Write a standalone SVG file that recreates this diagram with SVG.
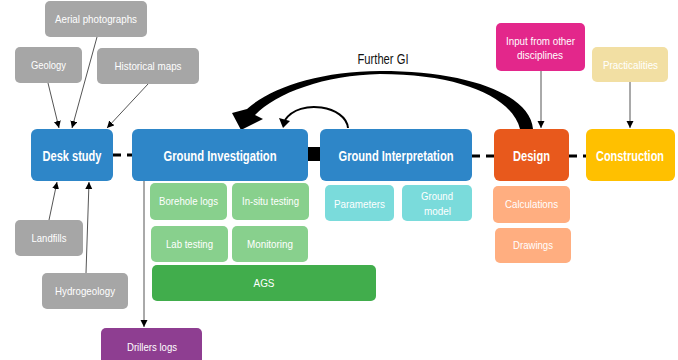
<svg xmlns="http://www.w3.org/2000/svg" width="678" height="360" viewBox="0 0 678 360">
<style>
.main{font-family:"Liberation Sans",Arial,sans-serif;font-weight:bold;font-size:14px;fill:#fff;text-anchor:middle}
.lbl{font-family:"Liberation Sans",Arial,sans-serif;font-size:11.5px;fill:#fff;text-anchor:middle}
.thin{stroke:#555;stroke-width:1;fill:none;marker-end:url(#ah)}
.dash{stroke:#000;stroke-width:3;fill:none;stroke-dasharray:8 6}
.blue{fill:#2E86C8}
.gray{fill:#A6A6A6}
.lg{fill:#88D08D}
</style>
<defs>
<marker id="ah" markerUnits="userSpaceOnUse" markerWidth="8" markerHeight="8" refX="7" refY="3.5" orient="auto">
<path d="M0,0 L7,3.5 L0,7 z" fill="#000"/>
</marker>
</defs>

<g id="connectors">
<line class="thin" x1="48" y1="83" x2="59" y2="128"/>
<line class="thin" x1="97" y1="37" x2="72" y2="128"/>
<line class="thin" x1="148" y1="84" x2="107" y2="128"/>
<line class="thin" x1="49" y1="220" x2="57" y2="182"/>
<line class="thin" x1="86" y1="273" x2="89" y2="182"/>
<line class="thin" x1="541" y1="71" x2="541" y2="128"/>
<line class="thin" x1="630" y1="82" x2="630" y2="128"/>
<line class="thin" x1="144" y1="181" x2="144" y2="327"/>
<line class="dash" x1="113" y1="155" x2="132" y2="155"/>
<line class="dash" x1="472" y1="156" x2="494" y2="156"/>
<line class="dash" x1="569" y1="156" x2="586" y2="156"/>
<rect x="307" y="147" width="14" height="14" fill="#000"/>
<path d="M533 129 C530 95 470 71 380 71 C320 71 270 88 247 109 L232 113 L241 130 L263 119 L255 115 C276 93 325 75 380 74 C460 74 512 97 520 129 Z" fill="#000"/>
<path d="M348 128 C346 106 300 98 285 120" stroke="#000" stroke-width="2" fill="none"/>
<path d="M279 118 L283 128 L290 121 Z" fill="#000"/>
<text x="383" y="64" font-family="'Liberation Sans',Arial,sans-serif" font-size="14" fill="#111" text-anchor="middle" textLength="51" lengthAdjust="spacingAndGlyphs">Further GI</text>
</g>

<g id="aerial"><rect class="gray" x="45" y="1" width="102" height="36" rx="5"/><text class="lbl" x="96" y="23" textLength="82" lengthAdjust="spacingAndGlyphs">Aerial photographs</text></g>
<g id="geology"><rect class="gray" x="15" y="47" width="67" height="36" rx="5"/><text class="lbl" x="48.5" y="69" textLength="35" lengthAdjust="spacingAndGlyphs">Geology</text></g>
<g id="historical"><rect class="gray" x="97" y="48" width="102" height="36" rx="5"/><text class="lbl" x="148" y="70" textLength="67" lengthAdjust="spacingAndGlyphs">Historical maps</text></g>
<g id="landfills"><rect class="gray" x="15" y="220" width="68" height="36" rx="5"/><text class="lbl" x="49" y="242" textLength="35" lengthAdjust="spacingAndGlyphs">Landfills</text></g>
<g id="hydrogeology"><rect class="gray" x="42" y="273" width="86" height="36" rx="5"/><text class="lbl" x="85" y="295" textLength="60" lengthAdjust="spacingAndGlyphs">Hydrogeology</text></g>

<g id="desk"><rect class="blue" x="31" y="129" width="82" height="52" rx="6"/><text class="main" x="72" y="161" textLength="59" lengthAdjust="spacingAndGlyphs">Desk study</text></g>
<g id="gi"><rect class="blue" x="132" y="129" width="176" height="52" rx="6"/><text class="main" x="220" y="161" textLength="113" lengthAdjust="spacingAndGlyphs">Ground Investigation</text></g>
<g id="ginterp"><rect class="blue" x="320" y="129" width="152" height="52" rx="6"/><text class="main" x="396" y="161" textLength="115" lengthAdjust="spacingAndGlyphs">Ground Interpretation</text></g>
<g id="design"><rect x="494" y="129" width="75" height="52" rx="6" fill="#E8591C"/><text class="main" x="531.5" y="161" textLength="37" lengthAdjust="spacingAndGlyphs">Design</text></g>
<g id="construction"><rect x="586" y="129" width="89" height="52" rx="6" fill="#FFC000"/><text class="main" x="630" y="161" font-size="12.5" textLength="68" lengthAdjust="spacingAndGlyphs">Construction</text></g>

<g id="input"><rect x="496" y="23" width="89" height="48" rx="5" fill="#E3278B"/><text class="lbl" x="540.5" y="45" textLength="69" lengthAdjust="spacingAndGlyphs">Input from other</text><text class="lbl" x="540" y="59" textLength="46" lengthAdjust="spacingAndGlyphs">disciplines</text></g>
<g id="practicalities"><rect x="592" y="47" width="76" height="35" rx="5" fill="#F2DFA3"/><text class="lbl" x="630.5" y="69" textLength="55" lengthAdjust="spacingAndGlyphs">Practicalities</text></g>

<g id="borehole"><rect class="lg" x="150" y="183" width="77" height="37" rx="5"/><text class="lbl" x="188.5" y="205" textLength="59" lengthAdjust="spacingAndGlyphs">Borehole logs</text></g>
<g id="insitu"><rect class="lg" x="232" y="183" width="77" height="37" rx="5"/><text class="lbl" x="270.5" y="205" textLength="57" lengthAdjust="spacingAndGlyphs">In-situ testing</text></g>
<g id="lab"><rect class="lg" x="151" y="226" width="77" height="36" rx="5"/><text class="lbl" x="189.5" y="248" textLength="47" lengthAdjust="spacingAndGlyphs">Lab testing</text></g>
<g id="monitoring"><rect class="lg" x="232" y="226" width="76" height="36" rx="5"/><text class="lbl" x="270" y="248" textLength="46" lengthAdjust="spacingAndGlyphs">Monitoring</text></g>
<g id="ags"><rect x="152" y="265" width="224" height="36" rx="5" fill="#41AD4C"/><text class="lbl" x="264" y="287" textLength="21" lengthAdjust="spacingAndGlyphs">AGS</text></g>

<g id="parameters"><rect x="325" y="185" width="69" height="36" rx="5" fill="#7ADBDB"/><text class="lbl" x="359.5" y="208" textLength="51" lengthAdjust="spacingAndGlyphs">Parameters</text></g>
<g id="groundmodel"><rect x="402" y="185" width="70" height="36" rx="5" fill="#7ADBDB"/><text class="lbl" x="437" y="200" textLength="32" lengthAdjust="spacingAndGlyphs">Ground</text><text class="lbl" x="437.5" y="215" textLength="27" lengthAdjust="spacingAndGlyphs">model</text></g>

<g id="calculations"><rect x="493" y="186" width="77" height="37" rx="5" fill="#FFAE80"/><text class="lbl" x="531.5" y="208" textLength="53" lengthAdjust="spacingAndGlyphs">Calculations</text></g>
<g id="drawings"><rect x="495" y="228" width="76" height="35" rx="5" fill="#FFAE80"/><text class="lbl" x="533" y="249" textLength="40" lengthAdjust="spacingAndGlyphs">Drawings</text></g>

<g id="drillers"><rect x="101" y="328" width="101" height="36" rx="5" fill="#8E3E91"/><text class="lbl" x="152" y="351" textLength="50" lengthAdjust="spacingAndGlyphs">Drillers logs</text></g>
</svg>
